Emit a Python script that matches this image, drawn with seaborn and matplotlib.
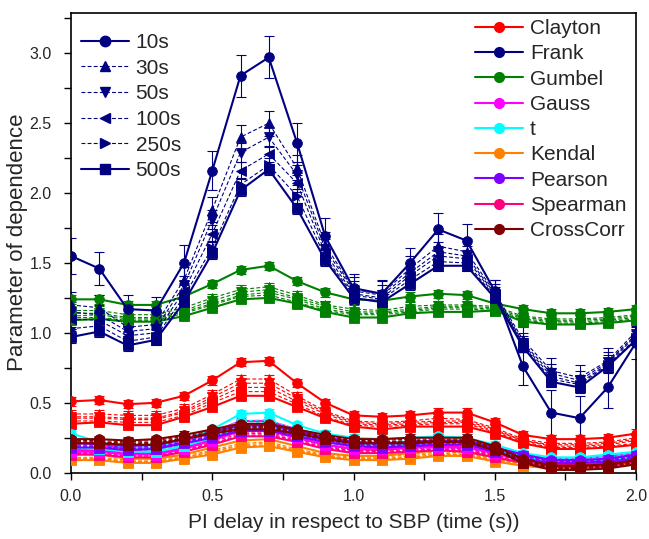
import matplotlib
matplotlib.use("Agg")
import matplotlib.pyplot as plt
from matplotlib.lines import Line2D
from matplotlib.ticker import MultipleLocator
import numpy as np
import seaborn as sns

# ---------------- data ----------------
x = [0.0, 0.1, 0.2, 0.3, 0.4, 0.5, 0.6, 0.7, 0.8, 0.9, 1.0,
     1.1, 1.2, 1.3, 1.4, 1.5, 1.6, 1.7, 1.8, 1.9, 2.0]

windows = ["10s", "30s", "50s", "100s", "250s", "500s"]
methods = ["Clayton", "Frank", "Gumbel", "Gauss", "t", "Kendal", "Pearson", "Spearman", "CrossCorr"]

clayton_10 = [0.51, 0.52, 0.49, 0.50, 0.55, 0.66, 0.79, 0.80, 0.64, 0.50, 0.41, 0.40, 0.41, 0.43, 0.43, 0.36, 0.27, 0.24, 0.24, 0.25, 0.28]
clayton_30 = [0.42, 0.42, 0.41, 0.41, 0.46, 0.56, 0.67, 0.67, 0.55, 0.44, 0.37, 0.36, 0.37, 0.39, 0.38, 0.32, 0.24, 0.21, 0.21, 0.22, 0.25]
clayton_50 = [0.40, 0.40, 0.39, 0.39, 0.44, 0.54, 0.64, 0.64, 0.53, 0.43, 0.36, 0.35, 0.36, 0.37, 0.37, 0.31, 0.23, 0.20, 0.20, 0.21, 0.24]
clayton_100 = [0.39, 0.39, 0.38, 0.38, 0.43, 0.52, 0.61, 0.61, 0.51, 0.42, 0.35, 0.34, 0.35, 0.36, 0.36, 0.30, 0.23, 0.19, 0.19, 0.20, 0.23]
clayton_250 = [0.37, 0.37, 0.36, 0.36, 0.41, 0.50, 0.58, 0.58, 0.49, 0.40, 0.34, 0.33, 0.34, 0.35, 0.35, 0.29, 0.22, 0.18, 0.18, 0.19, 0.21]
clayton_500 = [0.35, 0.36, 0.34, 0.34, 0.40, 0.47, 0.55, 0.55, 0.47, 0.39, 0.33, 0.31, 0.33, 0.33, 0.33, 0.28, 0.21, 0.17, 0.17, 0.18, 0.20]

frank_10 = [1.55, 1.46, 1.17, 1.16, 1.50, 2.16, 2.84, 2.97, 2.36, 1.69, 1.32, 1.28, 1.50, 1.74, 1.66, 1.30, 0.76, 0.43, 0.39, 0.61, 0.93]
frank_30 = [1.20, 1.18, 1.04, 1.06, 1.38, 1.88, 2.40, 2.50, 2.18, 1.63, 1.31, 1.28, 1.46, 1.62, 1.58, 1.29, 0.95, 0.73, 0.68, 0.80, 1.01]
frank_50 = [1.15, 1.13, 1.01, 1.03, 1.34, 1.81, 2.29, 2.40, 2.13, 1.60, 1.30, 1.27, 1.43, 1.58, 1.55, 1.28, 0.93, 0.71, 0.66, 0.79, 0.99]
frank_100 = [1.10, 1.09, 0.98, 1.00, 1.30, 1.71, 2.16, 2.28, 2.07, 1.57, 1.28, 1.25, 1.41, 1.55, 1.53, 1.27, 0.92, 0.69, 0.64, 0.78, 0.98]
frank_250 = [1.03, 1.05, 0.94, 0.97, 1.26, 1.61, 2.06, 2.20, 1.98, 1.54, 1.27, 1.24, 1.38, 1.51, 1.50, 1.26, 0.91, 0.67, 0.63, 0.77, 0.96]
frank_500 = [0.97, 1.01, 0.91, 0.95, 1.22, 1.57, 2.02, 2.17, 1.89, 1.52, 1.25, 1.22, 1.35, 1.48, 1.48, 1.25, 0.90, 0.65, 0.61, 0.76, 0.95]

gumbel_10 = [1.24, 1.24, 1.20, 1.20, 1.26, 1.35, 1.45, 1.48, 1.37, 1.29, 1.24, 1.23, 1.26, 1.28, 1.27, 1.21, 1.17, 1.14, 1.14, 1.15, 1.17]
gumbel_30 = [1.16, 1.16, 1.13, 1.13, 1.18, 1.25, 1.31, 1.33, 1.27, 1.20, 1.17, 1.16, 1.19, 1.20, 1.20, 1.19, 1.12, 1.10, 1.10, 1.11, 1.13]
gumbel_50 = [1.14, 1.14, 1.11, 1.11, 1.16, 1.23, 1.29, 1.31, 1.25, 1.19, 1.15, 1.15, 1.17, 1.19, 1.19, 1.18, 1.11, 1.09, 1.09, 1.10, 1.12]
gumbel_100 = [1.12, 1.13, 1.10, 1.10, 1.15, 1.21, 1.27, 1.29, 1.24, 1.17, 1.14, 1.14, 1.16, 1.18, 1.18, 1.17, 1.10, 1.08, 1.08, 1.09, 1.11]
gumbel_250 = [1.11, 1.11, 1.09, 1.09, 1.14, 1.20, 1.26, 1.27, 1.22, 1.16, 1.13, 1.13, 1.15, 1.17, 1.17, 1.16, 1.09, 1.07, 1.07, 1.08, 1.10]
gumbel_500 = [1.09, 1.10, 1.08, 1.08, 1.12, 1.18, 1.24, 1.25, 1.21, 1.15, 1.11, 1.11, 1.14, 1.15, 1.15, 1.16, 1.08, 1.06, 1.06, 1.07, 1.09]

gauss_10 = [0.22, 0.20, 0.17, 0.17, 0.22, 0.29, 0.37, 0.37, 0.31, 0.25, 0.22, 0.21, 0.22, 0.23, 0.22, 0.18, 0.13, 0.10, 0.10, 0.12, 0.14]
gauss_30 = [0.19, 0.18, 0.16, 0.16, 0.20, 0.27, 0.34, 0.34, 0.29, 0.23, 0.20, 0.20, 0.21, 0.22, 0.21, 0.17, 0.12, 0.09, 0.09, 0.11, 0.13]
gauss_50 = [0.18, 0.17, 0.15, 0.15, 0.19, 0.26, 0.33, 0.33, 0.28, 0.22, 0.19, 0.19, 0.20, 0.21, 0.20, 0.16, 0.11, 0.08, 0.08, 0.10, 0.12]
gauss_100 = [0.17, 0.16, 0.14, 0.14, 0.18, 0.25, 0.32, 0.32, 0.27, 0.21, 0.18, 0.18, 0.19, 0.20, 0.19, 0.15, 0.10, 0.08, 0.08, 0.09, 0.11]
gauss_250 = [0.16, 0.15, 0.13, 0.13, 0.17, 0.24, 0.31, 0.31, 0.26, 0.20, 0.17, 0.17, 0.18, 0.19, 0.18, 0.14, 0.10, 0.07, 0.07, 0.09, 0.11]
gauss_500 = [0.15, 0.15, 0.13, 0.13, 0.17, 0.23, 0.30, 0.30, 0.25, 0.20, 0.17, 0.17, 0.18, 0.18, 0.18, 0.14, 0.09, 0.07, 0.07, 0.08, 0.10]

t_10 = [0.28, 0.22, 0.18, 0.18, 0.24, 0.31, 0.42, 0.43, 0.34, 0.28, 0.25, 0.24, 0.25, 0.26, 0.25, 0.20, 0.14, 0.11, 0.11, 0.13, 0.15]
t_30 = [0.22, 0.20, 0.17, 0.17, 0.22, 0.29, 0.37, 0.38, 0.31, 0.25, 0.22, 0.22, 0.23, 0.24, 0.23, 0.18, 0.13, 0.10, 0.10, 0.12, 0.14]
t_50 = [0.21, 0.19, 0.16, 0.16, 0.21, 0.28, 0.35, 0.36, 0.30, 0.24, 0.21, 0.21, 0.22, 0.23, 0.22, 0.17, 0.12, 0.09, 0.09, 0.11, 0.13]
t_100 = [0.20, 0.18, 0.16, 0.16, 0.20, 0.27, 0.34, 0.35, 0.29, 0.23, 0.20, 0.20, 0.21, 0.22, 0.21, 0.17, 0.12, 0.09, 0.09, 0.10, 0.12]
t_250 = [0.19, 0.18, 0.15, 0.15, 0.19, 0.26, 0.33, 0.34, 0.28, 0.22, 0.20, 0.19, 0.20, 0.21, 0.20, 0.16, 0.11, 0.08, 0.08, 0.10, 0.12]
t_500 = [0.18, 0.17, 0.15, 0.15, 0.19, 0.25, 0.32, 0.33, 0.27, 0.22, 0.19, 0.19, 0.20, 0.21, 0.20, 0.16, 0.11, 0.08, 0.08, 0.09, 0.11]

kendal_10 = [0.13, 0.13, 0.10, 0.10, 0.13, 0.18, 0.23, 0.24, 0.19, 0.14, 0.12, 0.12, 0.14, 0.16, 0.15, 0.11, 0.07, 0.05, 0.05, 0.06, 0.09]
kendal_30 = [0.11, 0.11, 0.09, 0.09, 0.12, 0.16, 0.21, 0.22, 0.17, 0.13, 0.11, 0.11, 0.13, 0.15, 0.14, 0.10, 0.06, 0.04, 0.04, 0.05, 0.08]
kendal_50 = [0.10, 0.10, 0.08, 0.08, 0.11, 0.15, 0.20, 0.21, 0.16, 0.12, 0.10, 0.10, 0.12, 0.14, 0.13, 0.10, 0.06, 0.04, 0.04, 0.05, 0.07]
kendal_100 = [0.10, 0.10, 0.08, 0.08, 0.11, 0.15, 0.19, 0.20, 0.16, 0.12, 0.10, 0.10, 0.11, 0.13, 0.13, 0.09, 0.05, 0.03, 0.03, 0.04, 0.07]
kendal_250 = [0.09, 0.09, 0.07, 0.07, 0.10, 0.14, 0.18, 0.19, 0.15, 0.11, 0.09, 0.09, 0.11, 0.13, 0.12, 0.09, 0.05, 0.03, 0.03, 0.04, 0.06]
kendal_500 = [0.09, 0.09, 0.07, 0.07, 0.10, 0.13, 0.18, 0.19, 0.15, 0.11, 0.09, 0.09, 0.10, 0.12, 0.12, 0.08, 0.05, 0.03, 0.03, 0.04, 0.06]

pearson_10 = [0.21, 0.21, 0.19, 0.20, 0.24, 0.29, 0.34, 0.34, 0.30, 0.25, 0.22, 0.21, 0.22, 0.23, 0.23, 0.18, 0.13, 0.09, 0.09, 0.10, 0.13]
pearson_30 = [0.20, 0.20, 0.18, 0.19, 0.23, 0.28, 0.33, 0.33, 0.29, 0.24, 0.21, 0.20, 0.21, 0.22, 0.22, 0.17, 0.12, 0.08, 0.08, 0.10, 0.12]
pearson_50 = [0.19, 0.19, 0.17, 0.18, 0.22, 0.27, 0.32, 0.32, 0.28, 0.23, 0.20, 0.20, 0.21, 0.21, 0.21, 0.17, 0.12, 0.08, 0.08, 0.09, 0.12]
pearson_100 = [0.19, 0.19, 0.17, 0.18, 0.22, 0.26, 0.31, 0.31, 0.27, 0.23, 0.20, 0.19, 0.20, 0.21, 0.21, 0.16, 0.11, 0.07, 0.07, 0.09, 0.11]
pearson_250 = [0.18, 0.18, 0.16, 0.17, 0.21, 0.26, 0.30, 0.30, 0.27, 0.22, 0.19, 0.19, 0.20, 0.20, 0.20, 0.16, 0.11, 0.07, 0.07, 0.08, 0.11]
pearson_500 = [0.18, 0.18, 0.16, 0.17, 0.21, 0.25, 0.30, 0.30, 0.26, 0.22, 0.19, 0.18, 0.19, 0.20, 0.20, 0.15, 0.10, 0.07, 0.07, 0.08, 0.10]

spearman_10 = [0.16, 0.16, 0.14, 0.14, 0.18, 0.24, 0.30, 0.31, 0.25, 0.20, 0.17, 0.16, 0.18, 0.19, 0.18, 0.14, 0.09, 0.06, 0.06, 0.07, 0.10]
spearman_30 = [0.15, 0.15, 0.13, 0.13, 0.17, 0.23, 0.29, 0.29, 0.24, 0.19, 0.16, 0.15, 0.17, 0.18, 0.17, 0.13, 0.08, 0.05, 0.05, 0.07, 0.09]
spearman_50 = [0.15, 0.14, 0.13, 0.13, 0.16, 0.22, 0.28, 0.28, 0.23, 0.18, 0.16, 0.15, 0.16, 0.17, 0.17, 0.13, 0.08, 0.05, 0.05, 0.06, 0.09]
spearman_100 = [0.14, 0.14, 0.12, 0.12, 0.16, 0.21, 0.27, 0.27, 0.23, 0.18, 0.15, 0.14, 0.16, 0.17, 0.16, 0.12, 0.07, 0.04, 0.04, 0.06, 0.08]
spearman_250 = [0.14, 0.13, 0.12, 0.12, 0.15, 0.21, 0.26, 0.27, 0.22, 0.17, 0.15, 0.14, 0.15, 0.16, 0.16, 0.12, 0.07, 0.04, 0.04, 0.05, 0.08]
spearman_500 = [0.13, 0.13, 0.11, 0.11, 0.15, 0.20, 0.26, 0.26, 0.22, 0.17, 0.14, 0.14, 0.15, 0.16, 0.15, 0.11, 0.07, 0.04, 0.04, 0.05, 0.08]

crosscorr_10 = [0.24, 0.24, 0.23, 0.24, 0.27, 0.31, 0.35, 0.35, 0.31, 0.27, 0.24, 0.24, 0.25, 0.25, 0.25, 0.19, 0.10, 0.05, 0.05, 0.06, 0.09]
crosscorr_30 = [0.23, 0.23, 0.22, 0.23, 0.26, 0.30, 0.34, 0.34, 0.30, 0.26, 0.23, 0.23, 0.24, 0.24, 0.24, 0.18, 0.09, 0.04, 0.04, 0.05, 0.08]
crosscorr_50 = [0.22, 0.22, 0.21, 0.22, 0.25, 0.29, 0.33, 0.33, 0.29, 0.25, 0.23, 0.22, 0.23, 0.23, 0.23, 0.17, 0.08, 0.04, 0.04, 0.05, 0.07]
crosscorr_100 = [0.22, 0.22, 0.21, 0.21, 0.25, 0.29, 0.32, 0.32, 0.29, 0.25, 0.22, 0.22, 0.22, 0.23, 0.23, 0.17, 0.08, 0.03, 0.03, 0.04, 0.07]
crosscorr_250 = [0.21, 0.21, 0.20, 0.21, 0.24, 0.28, 0.32, 0.32, 0.28, 0.24, 0.22, 0.21, 0.22, 0.22, 0.22, 0.16, 0.07, 0.03, 0.03, 0.04, 0.06]
crosscorr_500 = [0.21, 0.21, 0.20, 0.20, 0.24, 0.28, 0.31, 0.31, 0.28, 0.24, 0.21, 0.21, 0.21, 0.22, 0.22, 0.16, 0.07, 0.02, 0.02, 0.03, 0.06]

# error bar half-widths
frank_10_err = [0.13, 0.12, 0.10, 0.10, 0.13, 0.14, 0.15, 0.15, 0.14, 0.13, 0.10, 0.10, 0.11, 0.12, 0.12, 0.08, 0.13, 0.16, 0.16, 0.15, 0.12]
frank_err = [0.09, 0.07, 0.06, 0.05, 0.04]          # 30s..500s
clayton_err = [0.03, 0.03, 0.03, 0.02, 0.02, 0.02]
gumbel_err = [0.03, 0.03, 0.02, 0.02, 0.02, 0.02]
small_err = [0.025, 0.02, 0.02, 0.02, 0.015, 0.015]

# ---------------- style ----------------
method_colors = ["#FF0000", "#000080", "#008000", "#FF00FF", "#00FFFF",
                 "#FF8000", "#8000FF", "#FF0080", "#800000"]
win_markers = ["o", "^", "v", "<", ">", "s"]
win_dashed = [False, True, True, True, True, False]

series = {
    "Clayton": [clayton_10, clayton_30, clayton_50, clayton_100, clayton_250, clayton_500],
    "Frank": [frank_10, frank_30, frank_50, frank_100, frank_250, frank_500],
    "Gumbel": [gumbel_10, gumbel_30, gumbel_50, gumbel_100, gumbel_250, gumbel_500],
    "Gauss": [gauss_10, gauss_30, gauss_50, gauss_100, gauss_250, gauss_500],
    "t": [t_10, t_30, t_50, t_100, t_250, t_500],
    "Kendal": [kendal_10, kendal_30, kendal_50, kendal_100, kendal_250, kendal_500],
    "Pearson": [pearson_10, pearson_30, pearson_50, pearson_100, pearson_250, pearson_500],
    "Spearman": [spearman_10, spearman_30, spearman_50, spearman_100, spearman_250, spearman_500],
    "CrossCorr": [crosscorr_10, crosscorr_30, crosscorr_50, crosscorr_100, crosscorr_250, crosscorr_500],
}
errors = {
    "Clayton": clayton_err,
    "Frank": [frank_10_err] + frank_err,
    "Gumbel": gumbel_err,
}

sns.set_theme(style="ticks")
plt.rcParams["font.family"] = ["Liberation Sans", "DejaVu Sans"]

fig = plt.figure(figsize=(6.49, 5.39), dpi=100)
ax = fig.add_axes([71 / 649, (539 - 472.7) / 539, 565 / 649, 460 / 539])

draw_order = ["Gumbel", "Frank", "Clayton", "Kendal", "Spearman", "Gauss", "t", "Pearson", "CrossCorr"]
for m in draw_order:
    color = method_colors[methods.index(m)]
    errs = errors.get(m, small_err)
    for wi in range(len(windows)):
        y = series[m][wi]
        ax.errorbar(x, y, yerr=errs[wi], fmt="none", ecolor=color,
                    elinewidth=0.8, capsize=3.5, capthick=0.8, zorder=2)
        dashed = win_dashed[wi]
        sns.lineplot(x=x, y=y, ax=ax, color=color, marker=win_markers[wi],
                     markersize=7, markeredgecolor=color, markeredgewidth=0.6,
                     linewidth=0.8 if dashed else 1.5,
                     linestyle=(0, (3.5, 2)) if dashed else "-",
                     estimator=None, errorbar=None, legend=False, zorder=3)

ax.set_xlim(0, 2.0)
ax.set_ylim(0, 3.29)
ax.xaxis.set_major_locator(MultipleLocator(0.5))
ax.xaxis.set_minor_locator(MultipleLocator(0.25))
ax.yaxis.set_major_locator(MultipleLocator(0.5))
ax.yaxis.set_minor_locator(MultipleLocator(0.25))
ax.tick_params(which="both", direction="out", length=5, width=1.0, color="black",
               labelsize=11.5, top=False, right=False, bottom=True, left=True)
ax.tick_params(axis="x", which="major", pad=7)
ax.tick_params(axis="y", which="major", pad=9)
for s in ax.spines.values():
    s.set_color("black")
    s.set_linewidth(1.2)

ax.set_xlabel("PI delay in respect to SBP (time (s))", fontsize=15, labelpad=6)
ax.set_ylabel("Parameter of dependence", fontsize=16, labelpad=1)

# legend 1: window lengths
h1 = []
for wi, w in enumerate(windows):
    h1.append(Line2D([0], [0], color="#000080", marker=win_markers[wi], markersize=7.5,
                     markeredgecolor="#000080",
                     linewidth=0.8 if win_dashed[wi] else 1.5,
                     linestyle=(0, (3.5, 2)) if win_dashed[wi] else "-"))
leg1 = ax.legend(h1, windows, loc="upper left", bbox_to_anchor=(0.017, 0.956),
                 frameon=False, fontsize=15, handlelength=2.3, handletextpad=0.34,
                 labelspacing=0.32, borderpad=0, borderaxespad=0)
ax.add_artist(leg1)

h2 = [Line2D([0], [0], color=c, marker="o", markersize=7, markeredgecolor=c, linewidth=1.5)
      for c in method_colors]
ax.legend(h2, methods, loc="upper left", bbox_to_anchor=(0.715, 0.986),
          frameon=False, fontsize=15, handlelength=2.3, handletextpad=0.34,
          labelspacing=0.3, borderpad=0, borderaxespad=0)

fig.savefig("out.png", dpi=100)
